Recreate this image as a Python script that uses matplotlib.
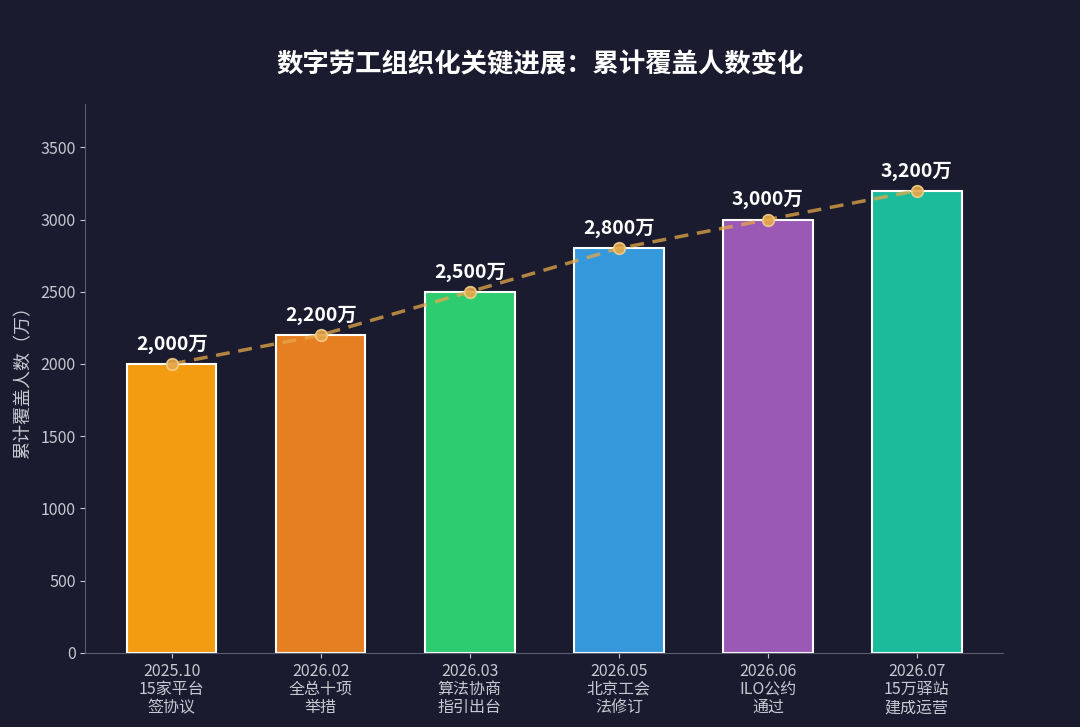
import matplotlib.pyplot as plt

plt.rcParams['font.family'] = ['Noto Sans CJK SC', 'DejaVu Sans']

# data
dates = ["2025.10", "2026.02", "2026.03", "2026.05", "2026.06", "2026.07"]
events = ["15家平台\n签协议", "全总十项\n举措", "算法协商\n指引出台",
          "北京工会\n法修订", "ILO公约\n通过", "15万驿站\n建成运营"]
values = [2000, 2200, 2500, 2800, 3000, 3200]
colors = ["#f39c12", "#e67e22", "#2ecc71", "#3498db", "#9b59b6", "#1abc9c"]

bg = "#1a1b2e"
fig = plt.figure(figsize=(10.8, 7.27), dpi=100, facecolor=bg)
ax = fig.add_axes([0.079, 0.102, 0.85, 0.755], facecolor=bg)

x = list(range(len(values)))
ax.bar(x, values, width=0.6, color=colors, edgecolor="white", linewidth=1.5, zorder=2)

# trend line over the bars
ax.plot(x, values, linestyle="--", color="#e6a84a", alpha=0.75, linewidth=2.5,
        dashes=(4, 2.5), zorder=3)
ax.scatter(x, values, s=70, color="#e6a84a", edgecolor="#f5d08a", linewidth=1.2,
           alpha=0.9, zorder=4)

for xi, v in zip(x, values):
    ax.text(xi, v + 70, f"{v:,}万", ha="center", va="bottom", color="white",
            fontsize=14, fontweight="bold", zorder=5)

ax.set_ylim(0, 3800)
ax.set_xticks(x)
ax.set_xticklabels([d + "\n" + e for d, e in zip(dates, events)], fontsize=11.5,
                   color="#c8c8d2", linespacing=1.1)
ax.tick_params(axis="y", colors="#c8c8d2", labelsize=11.5)
ax.tick_params(axis="x", colors="#c8c8d2")
ax.set_ylabel("累计覆盖人数（万）", color="#c8c8d2", fontsize=13, labelpad=6)

for side in ["top", "right"]:
    ax.spines[side].set_visible(False)
for side in ["left", "bottom"]:
    ax.spines[side].set_color("#5a5c70")

fig.suptitle("数字劳工组织化关键进展：累计覆盖人数变化", color="white",
             fontsize=19, fontweight="bold", y=0.93)

fig.savefig("out.png", dpi=100, facecolor=bg)
